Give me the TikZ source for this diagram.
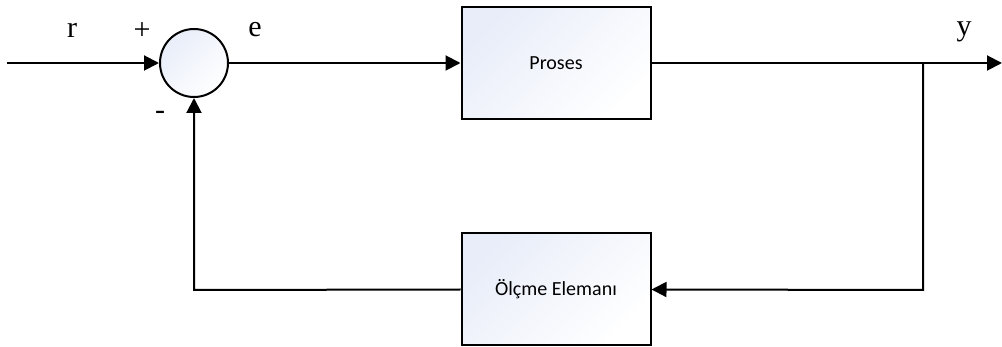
\documentclass[tikz,border=0pt]{standalone}
\usepackage{fontspec}
\setmainfont{Liberation Serif}
\newfontfamily\boxfont{Carlito}
\usetikzlibrary{arrows.meta}
\definecolor{shadeblue}{RGB}{232,237,249}
\tikzset{
  blockbox/.style={draw=black, line width=2pt, minimum width=189pt, minimum height=112pt,
    shading=axis, left color=shadeblue, right color=white, shading angle=45,
    font=\boxfont\fontsize{20}{23}\selectfont, inner sep=0pt},
  sumnode/.style={draw=black, line width=2pt, circle, minimum size=68pt, inner sep=0pt,
    shading=axis, left color=shadeblue, right color=white, shading angle=45},
  conn/.style={line width=2pt},
  arr/.style={conn, -{Triangle[length=15pt,width=15pt]}},
  lbl/.style={font=\fontsize{30}{32}\selectfont, inner sep=0pt}
}
\begin{document}
\begin{tikzpicture}[x=1pt,y=-1pt]
\useasboundingbox (0,0) rectangle (1002,347);
\node[sumnode] (sum) at (194,63) {};
\node[blockbox] (proc) at (556,63) {Proses};
\node[blockbox] (meas) at (556,289.5) {Ölçme Elemanı};
\coordinate (in) at (7,63);
\coordinate (out) at (1002,63);
\coordinate (tap) at (923,63);
\coordinate (tapd) at (923,290);
\coordinate (fbl) at (194,290);
\draw[arr] (in) -- (sum.west);
\draw[arr] (sum.east) -- (proc.west);
\draw[arr] (proc.east) -- (out);
\draw[arr] (tap) -- (tapd) -- (meas.east);
\draw[arr] (meas.west) -- (fbl) -- (sum.south);
\node[lbl] (r) at (72,30) {r};
\node[lbl] (plus) at (142,31) {+};
\node[lbl] (e) at (255,30) {e};
\node[lbl] (y) at (964,32) {y};
\node[lbl] (minus) at (160,115) {-};
\end{tikzpicture}
\end{document}
